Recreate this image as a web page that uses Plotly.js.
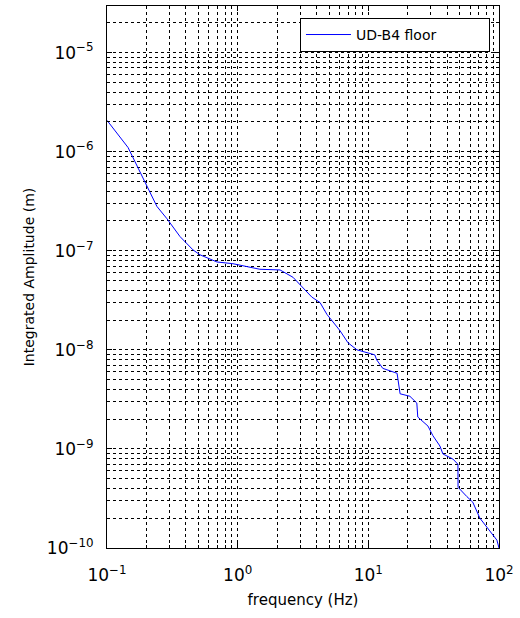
<!DOCTYPE html>
<html>
<head>
<meta charset="utf-8">
<script src="https://cdn.plot.ly/plotly-3.0.1.min.js"></script>
<style>html,body{margin:0;padding:0;background:#fff;}#chart{width:520px;height:618px;}</style>
</head>
<body>
<div id="chart"></div>
<script>
// Data
const freq = [0.1,0.145,0.202,0.241,0.288,0.362,0.455,0.515,0.695,0.92,1.48,2.11,2.65,3.7,4.27,4.82,6.07,6.98,8.18,11.2,11.6,12.9,16.6,17.5,20.8,23.5,23.9,28.6,31.2,35.3,37.2,44.4,48.5,48.6,56.8,63,71.4,85,96.4,100];
const amp = [2.07e-6,1.1e-6,4.5e-7,2.8e-7,2.1e-7,1.39e-7,1.02e-7,9.1e-8,7.7e-8,7.4e-8,6.5e-8,6.4e-8,5.4e-8,3.4e-8,3.0e-8,2.28e-8,1.56e-8,1.18e-8,1.0e-8,8.9e-9,7.9e-9,6.5e-9,5.8e-9,3.6e-9,3.4e-9,2.9e-9,2.1e-9,1.7e-9,1.36e-9,1.07e-9,8.9e-10,7.9e-10,7.0e-10,4.1e-10,3.3e-10,2.9e-10,2.0e-10,1.5e-10,1.2e-10,1.0e-10];
const seriesName = 'UD-B4 floor';

const xTickVals = [0.1, 1, 10, 100];
const xTickText = ['10<sup>−1</sup>','10<sup>0</sup>','10<sup>1</sup>','10<sup>2</sup>'];
const yTickVals = [1e-10, 1e-9, 1e-8, 1e-7, 1e-6, 1e-5];
const yTickText = ['10<sup>−10</sup>','10<sup>−9</sup>','10<sup>−8</sup>','10<sup>−7</sup>','10<sup>−6</sup>','10<sup>−5</sup>'];
const minorMult = [2,3,4,5,6,7,8,9];

function minorVals(decades){
  const out = [];
  decades.forEach(d => minorMult.forEach(m => out.push(m * d)));
  return out;
}

const FAM = 'DejaVu Sans, Verdana, sans-serif';
const gridStyle = {showgrid:true, gridcolor:'#000', gridwidth:1, griddash:'3px,3px'};
const tickFont = {family:FAM, size:17, color:'#000'};

const trace = {
  x: freq, y: amp, type:'scatter', mode:'lines', name: seriesName,
  line:{color:'#0000ff', width:1}
};

const layout = {
  width:520, height:618,
  margin:{l:107, r:21, t:6, b:70},
  paper_bgcolor:'#fff', plot_bgcolor:'#fff',
  font:{family:FAM, size:12, color:'#000'},
  showlegend:true,
  legend:{x:0.977, y:0.978, xanchor:'right', yanchor:'top',
          orientation:'h', entrywidth:128, itemwidth:45,
          bordercolor:'#000', borderwidth:1, bgcolor:'#fff',
          font:{family:FAM, size:14, color:'#000'}},
  xaxis:{
    type:'log', range:[-1, 2],
    tickmode:'array', tickvals:xTickVals, ticktext:xTickText,
    ticks:'inside', ticklen:5, tickcolor:'#000', ticklabelstandoff:12,
    showline:true, linecolor:'#000', linewidth:1, mirror:'allticks',
    ...gridStyle, zeroline:false,
    tickfont:tickFont,
    minor:{tickmode:'array', tickvals:minorVals([0.1,1,10]), ticks:'inside', ticklen:3, tickcolor:'#000', ...gridStyle},
    title:{text:'frequency (Hz)', font:{family:FAM, size:15, color:'#000'}, standoff:10}
  },
  yaxis:{
    type:'log', range:[-10, -4.53],
    tickmode:'array', tickvals:yTickVals, ticktext:yTickText,
    ticks:'inside', ticklen:5, tickcolor:'#000', ticklabelstandoff:9,
    showline:true, linecolor:'#000', linewidth:1, mirror:'allticks',
    ...gridStyle, zeroline:false,
    tickfont:tickFont,
    minor:{tickmode:'array', tickvals:minorVals([1e-10,1e-9,1e-8,1e-7,1e-6,1e-5]), ticks:'inside', ticklen:3, tickcolor:'#000', ...gridStyle},
    title:{text:'Integrated Amplitude (m)', font:{family:FAM, size:14, color:'#000'}, standoff:8}
  }
};

Plotly.newPlot('chart', [trace], layout, {displayModeBar:false, staticPlot:true});
</script>
</body>
</html>
